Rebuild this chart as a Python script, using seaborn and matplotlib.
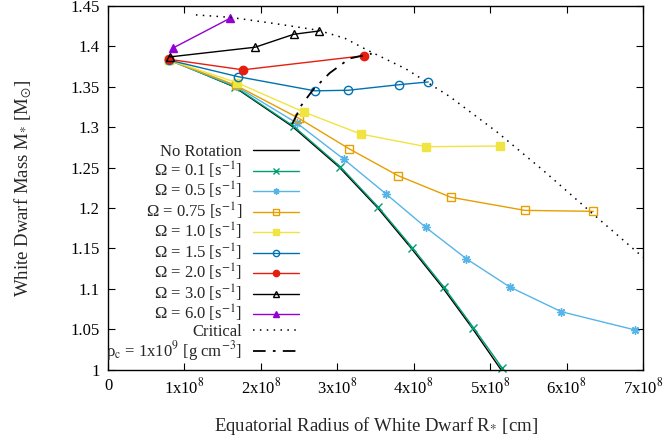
import numpy as np
import matplotlib
matplotlib.use("Agg")
import matplotlib.pyplot as plt
import seaborn as sns
from matplotlib.ticker import FixedLocator, FuncFormatter

# Radii in units of 1e8 cm, masses in solar masses
no_rot_r = [0.80, 1.65, 2.41, 3.02, 3.52, 3.96, 4.37, 4.76, 5.14]
no_rot_m = [1.384, 1.350, 1.301, 1.251, 1.201, 1.151, 1.1025, 1.052, 1.0]

om01_r = [0.80, 1.66, 2.43, 3.04, 3.537, 3.98, 4.39, 4.78, 5.16]
om01_m = [1.383, 1.350, 1.301, 1.251, 1.201, 1.151, 1.1025, 1.052, 1.0015]

om05_r = [0.80, 1.67, 2.475, 3.09, 3.638, 4.157, 4.69, 5.26, 5.93, 6.898]
om05_m = [1.383, 1.351, 1.3048, 1.260, 1.2173, 1.176, 1.137, 1.102, 1.0716, 1.0489]

om075_r = [0.80, 1.67, 2.497, 3.154, 3.794, 4.488, 5.455, 6.35]
om075_m = [1.383, 1.352, 1.311, 1.2733, 1.240, 1.2132, 1.197, 1.1958]

om10_r = [0.80, 1.69, 2.56, 3.307, 4.165, 5.13]
om10_m = [1.383, 1.355, 1.3188, 1.2915, 1.2758, 1.2767]

om15_r = [0.80, 1.703, 2.706, 3.141, 3.81, 4.19]
om15_m = [1.383, 1.3625, 1.345, 1.3457, 1.3526, 1.356]

om20_r = [0.80, 1.765, 3.35]
om20_m = [1.384, 1.371, 1.3885]

om30_r = [0.81, 1.926, 2.43, 2.754]
om30_m = [1.387, 1.399, 1.415, 1.419]

om60_r = [0.85, 1.60]
om60_m = [1.398, 1.435]

crit_r = [1.15, 1.6, 2.2, 2.75, 3.1, 3.38, 3.9, 4.47, 5.09, 5.7, 6.34, 7.0]
crit_m = [1.439, 1.436, 1.428, 1.42, 1.41, 1.396, 1.372, 1.338, 1.294, 1.246, 1.193, 1.139]

rho_r = [2.41, 2.53, 2.68, 2.9, 3.16, 3.45]
rho_m = [1.304, 1.327, 1.346, 1.367, 1.385, 1.391]

sns.set_theme(style="ticks")
plt.rcParams['font.family'] = ['Liberation Serif', 'DejaVu Serif']
plt.rcParams['mathtext.fontset'] = 'stix'

fig = plt.figure(figsize=(6.68, 4.42), dpi=100)
ax = fig.add_axes([0.1617, 0.164, 0.8009, 0.8224])

series = [
    (no_rot_r, no_rot_m, "No Rotation", "black", None, True),
    (om01_r, om01_m, r"Ω = 0.1 [s$^{-1}$]", "#009E73", "x", True),
    (om05_r, om05_m, r"Ω = 0.5 [s$^{-1}$]", "#56B4E9", (8, 2, 0), True),
    (om075_r, om075_m, r"Ω = 0.75 [s$^{-1}$]", "#E69F00", "s", False),
    (om10_r, om10_m, r"Ω = 1.0 [s$^{-1}$]", "#F0E442", "s", True),
    (om15_r, om15_m, r"Ω = 1.5 [s$^{-1}$]", "#0072B2", "o", False),
    (om20_r, om20_m, r"Ω = 2.0 [s$^{-1}$]", "#E51E10", "o", True),
    (om30_r, om30_m, r"Ω = 3.0 [s$^{-1}$]", "black", "^", False),
    (om60_r, om60_m, r"Ω = 6.0 [s$^{-1}$]", "#9400D3", "^", True),
]

for r, m, lab, col, mk, filled in series:
    x = np.array(r) * 1e8
    kw = dict(color=col, lw=1.0, sort=False, estimator=None, label=lab, ax=ax)
    if mk is not None:
        kw.update(marker=mk, markersize=6 if mk != "^" else 5.5, markeredgewidth=1.0,
                  markeredgecolor=col, markerfacecolor=col if filled else "none")
    sns.lineplot(x=x, y=m, **kw)

for l in ax.lines:
    l.set_clip_on(False)

sns.lineplot(x=np.array(crit_r) * 1e8, y=crit_m, color="black", lw=1.1,
             linestyle=(0, (1, 3.5)), sort=False, estimator=None, label="Critical", ax=ax)
sns.lineplot(x=np.array(rho_r) * 1e8, y=rho_m, color="black", lw=1.3,
             linestyle=(0, (7, 4, 1.5, 4)), sort=False, estimator=None,
             label=r"ρ$_{\mathrm{c}}$ = 1x10$^{9}$ [g cm$^{-3}$]", ax=ax)

ax.set_xlim(0, 7e8)
ax.set_ylim(1.0, 1.45)
ax.xaxis.set_major_locator(FixedLocator(np.arange(0, 8) * 1e8))
ax.xaxis.set_major_formatter(FuncFormatter(
    lambda v, p: "0" if v == 0 else r"%dx10$^{8}$" % round(v / 1e8)))
ax.yaxis.set_major_locator(FixedLocator(np.arange(1.0, 1.4501, 0.05)))
ax.yaxis.set_major_formatter(FuncFormatter(lambda v, p: "%g" % round(v, 2)))

ax.tick_params(direction="in", top=True, right=True, length=5, width=0.8,
               labelsize=12, colors="black", pad=6)
for s in ax.spines.values():
    s.set_color("black")
    s.set_linewidth(1.0)

ax.set_xlabel(r"Equatorial Radius of White Dwarf R$_{*}$ [cm]", fontsize=13.5, labelpad=12)
ax.set_ylabel(r"White Dwarf Mass M$_{*}$ [M$_{\odot}$]", fontsize=13.5, labelpad=26)

ax.legend(loc="lower right", bbox_to_anchor=(0.375, -0.01), markerfirst=False,
          frameon=False, fontsize=12, labelspacing=-0.04, handlelength=2.75,
          handletextpad=0.65, borderaxespad=0.2, markerscale=0.75)

fig.savefig("out.png", dpi=100)
